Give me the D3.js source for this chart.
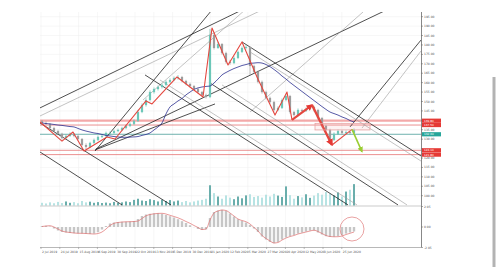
<!DOCTYPE html>
<html>
<head>
<meta charset="utf-8">
<script src="https://cdn.jsdelivr.net/npm/d3@7"></script>
<style>
  body { margin: 0; background: #fff; overflow: hidden; }
  text { font-family: "DejaVu Sans", sans-serif; }
</style>
</head>
<body>
<svg width="500" height="267"></svg>
<script>
const dates = ['2 Jul 2019', '24 Jul 2019', '15 Aug 2019', '6 Sep 2019', '30 Sep 2019', '22 Oct 2019',
  '13 Nov 2019', '5 Dec 2019', '30 Dec 2019', '21 Jan 2020', '12 Feb 2020', '5 Mar 2020',
  '27 Mar 2020', '20 Apr 2020', '12 May 2020', '3 Jun 2020', '25 Jun 2020']

// open, high, low, close
const candles = [
  [139.5, 140.2, 137.9, 138.6], [138.6, 139.4, 137.5, 138.1], [138.1, 138.5, 135.2, 135.9], [135.9, 136.6, 133.8, 134.3],
  [134.3, 135.0, 132.1, 132.8], [132.8, 133.4, 129.8, 130.6], [130.6, 132.4, 130.0, 131.7], [131.7, 133.6, 131.2, 132.8],
  [132.8, 133.3, 131.0, 131.7], [131.7, 132.2, 129.4, 130.1], [130.1, 130.6, 126.2, 126.9], [126.9, 127.8, 124.7, 125.9],
  [125.9, 128.6, 125.3, 128.0], [128.0, 130.3, 127.4, 129.6], [129.6, 131.9, 129.0, 131.2], [131.2, 132.5, 130.6, 131.7],
  [131.7, 134.0, 131.1, 133.3], [133.3, 134.1, 132.4, 133.3], [133.3, 135.0, 132.8, 134.3], [134.3, 135.6, 133.7, 134.9],
  [134.9, 136.6, 134.2, 135.9], [135.9, 137.7, 135.3, 137.0], [137.0, 138.9, 136.4, 138.1], [138.1, 140.5, 137.5, 139.7],
  [139.7, 145.6, 139.1, 144.4], [144.4, 149.0, 143.8, 148.1], [148.1, 151.7, 147.3, 150.8], [150.8, 155.9, 150.1, 155.0],
  [155.0, 157.4, 154.2, 156.6], [156.6, 158.5, 155.8, 157.7], [157.7, 159.6, 156.9, 158.8], [158.8, 161.2, 158.0, 160.4],
  [160.4, 162.3, 159.7, 161.4], [161.4, 163.3, 160.8, 162.5], [162.5, 164.0, 161.6, 163.0], [163.0, 163.6, 160.2, 160.9],
  [160.9, 161.5, 158.6, 159.3], [159.3, 160.0, 157.4, 158.2], [158.2, 158.8, 155.9, 156.6], [156.6, 157.3, 154.3, 155.0],
  [155.0, 155.6, 152.8, 153.5], [153.5, 154.2, 151.6, 152.4], [152.4, 188.5, 151.8, 185.3], [185.3, 186.4, 177.6, 178.4],
  [178.4, 181.6, 177.9, 180.5], [180.5, 181.0, 174.9, 175.7], [175.7, 176.4, 170.2, 171.0], [171.0, 172.1, 169.5, 170.4],
  [170.4, 174.0, 169.8, 173.1], [173.1, 177.0, 172.5, 176.3], [176.3, 179.2, 175.7, 178.4], [178.4, 179.8, 177.6, 178.9],
  [178.9, 179.4, 163.8, 168.8], [168.8, 169.5, 164.9, 165.7], [165.7, 166.4, 159.6, 160.4], [160.4, 161.1, 154.2, 155.0],
  [155.0, 155.7, 151.1, 151.9], [151.9, 152.6, 148.9, 149.7], [149.7, 150.4, 144.7, 145.5], [145.5, 147.4, 144.9, 146.6],
  [146.6, 151.6, 146.0, 150.8], [150.8, 153.7, 150.2, 152.9], [152.9, 153.5, 143.6, 144.4], [144.4, 145.0, 142.0, 142.8],
  [142.8, 146.3, 142.2, 145.5], [145.5, 146.2, 144.2, 145.0], [145.0, 146.8, 144.4, 146.0], [146.0, 147.9, 145.4, 147.1],
  [147.1, 147.7, 144.7, 145.5], [145.5, 146.1, 140.4, 141.2], [141.2, 141.8, 136.2, 137.0], [137.0, 137.6, 134.1, 134.9],
  [134.9, 135.5, 128.3, 129.6], [129.6, 133.6, 129.0, 132.8], [132.8, 135.1, 132.2, 134.3], [134.3, 134.9, 132.5, 133.3],
  [133.3, 134.6, 132.7, 133.8], [133.8, 134.4, 132.5, 133.3], [133.3, 135.7, 132.8, 134.9]
]

const ma = [138.6, 138.3, 138.1, 137.8, 137.5, 137.3, 137.0, 136.7, 136.5, 135.7,
  134.9, 134.3, 133.8, 133.3, 133.0, 132.5, 132.0, 131.7, 131.4, 131.2,
  131.0, 131.0, 131.1, 131.2, 131.4, 132.0, 132.5, 133.3, 134.9, 136.5,
  138.6, 143.4, 147.1, 148.7, 150.3, 151.6, 153.5, 155.0, 156.4, 157.2,
  157.7, 158.0, 158.2, 159.8, 161.9, 164.1, 165.4, 166.5, 167.5, 168.3,
  169.1, 169.6, 170.2, 170.4, 170.6, 170.4, 169.6, 168.5, 167.0, 165.4,
  163.5, 161.9, 160.1, 158.5, 156.9, 155.3, 153.7, 152.1, 150.5, 148.9,
  147.3, 145.8, 144.4, 143.6, 142.8, 141.8, 141.0, 139.9, 139.1]

const volume = [12, 9, 14, 10, 16, 11, 18, 12, 15, 10,
  20, 14, 17, 12, 15, 11, 13, 10, 16, 12,
  14, 18, 15, 25, 30, 22, 20, 28, 24, 18,
  26, 20, 24, 18, 22, 15, 20, 14, 18, 22,
  25, 30, 90, 55, 40, 30, 45, 35, 28, 40,
  32, 45, 50, 38, 42, 35, 48, 40, 52, 44,
  38, 85, 46, 30, 42, 36, 50, 34, 44, 55,
  48, 60, 52, 45, 58, 40, 62, 70, 95]

const hist = [0.10, 0.12, 0.05, -0.15, -0.35, -0.50, -0.55, -0.60, -0.62, -0.64,
  -0.65, -0.68, -0.70, -0.66, -0.52, -0.25, 0.10, 0.35, 0.45, 0.50,
  0.52, 0.53, 0.55, 0.60, 0.80, 1.10, 1.25, 1.32, 1.36, 1.38,
  1.32, 1.20, 1.08, 0.95, 0.78, 0.58, 0.40, 0.18, -0.02, -0.20,
  -0.30, -0.25, 0.90, 1.50, 1.65, 1.72, 1.62, 1.35, 1.05, 0.78,
  0.62, 0.45, 0.20, -0.15, -0.50, -0.95, -1.25, -1.50, -1.62, -1.50,
  -1.25, -1.05, -0.92, -0.80, -0.66, -0.56, -0.46, -0.36, -0.35, -0.55,
  -0.75, -0.92, -1.00, -0.98, -0.92, -0.80, -0.66, -0.55, -0.45]

const signal = [0.05, 0.10, 0.13, 0.00, -0.20, -0.40, -0.50, -0.55, -0.60, -0.63,
  -0.63, -0.65, -0.68, -0.70, -0.65, -0.50, -0.20, 0.15, 0.37, 0.45,
  0.50, 0.52, 0.53, 0.55, 0.60, 0.85, 1.12, 1.25, 1.32, 1.36,
  1.37, 1.30, 1.17, 1.05, 0.92, 0.75, 0.55, 0.37, 0.15, -0.05,
  -0.25, -0.20, 0.70, 1.40, 1.60, 1.70, 1.65, 1.40, 1.10, 0.80,
  0.65, 0.53, 0.30, -0.05, -0.40, -0.85, -1.15, -1.40, -1.60, -1.55,
  -1.30, -1.10, -0.95, -0.85, -0.70, -0.60, -0.50, -0.40, -0.32, -0.45,
  -0.65, -0.85, -0.95, -0.98, -0.97, -0.90, -0.75, -0.63, -0.50]

const priceTicks = d3.range(100, 196, 5)
const oscTicks = [2.05, 0, -2.05]
const levels = [139.8, 137.5, 132.6, 124.1, 121.8]

// zigzag wave marks: [bar index, price]
const zigzag = [[-0.5, 139.1], [5, 129.0], [7.75, 133.8], [10.5, 123.7], [16.25, 131.2], [18.25, 130.1],
  [26, 150.3], [27.5, 148.7], [33.75, 163.0], [40.25, 152.4], [42.5, 189.0], [46.5, 169.4],
  [50, 181.6], [53.75, 163.0], [58.25, 142.8], [61.25, 155.0], [62.5, 140.2], [67.5, 148.1],
  [72.5, 126.9], [77.5, 135.2]]
const projection = [[77.5, 135.2], [80, 123.4]]
const box = [[68.25, 138.4], [82, 134.9]]
const circleAt = [77.5, -0.2]

// trend lines: [i1, p1, i2, p2, kind]
const trendLines = [
  [-0.5, 146.6, 50, 198.6, 'k'], [-0.5, 142.3, 55, 198.6, 'g'],
  [13.5, 124.8, 85.25, 197.7, 'k'], [52, 144.4, 80.25, 197.5, 'g'],
  [13.25, 123.7, 42.5, 198.6, 'k'], [25.25, 150.8, 50.75, 198.6, 'g'],
  [77, 136.5, 94.75, 182.6, 'k'], [80, 135.9, 94.75, 176.8, 'g'],
  [13.25, 124.3, 43.25, 148.7, 'k'],
  [-0.5, 123.2, 20, 95.1, 'k'], [-0.5, 138.6, 32.25, 95.1, 'k'],
  [25.75, 164.1, 76.5, 95.1, 'k'], [29.5, 161.4, 78.75, 95.1, 'g'],
  [42, 159.8, 89, 95.1, 'k'], [45, 158.8, 91.25, 95.1, 'g'],
  [50, 181.6, 94.75, 121.1, 'k'], [52, 176.3, 94.75, 118.4, 'g']
]

const plot = { left: 40, right: 421.5, top: 12, mainBottom: 206, bottom: 247.5 }

const svg = d3.select('svg')

const x = d3.scaleLinear().domain([-0.5, 94.875]).range([plot.left, plot.right])
const y = d3.scaleLinear().domain([100, 195]).range([195.7, 16.7])
const yVol = d3.scaleLinear().domain([0, 100]).range([205.5, 183])
const yOsc = d3.scaleLinear().domain([-2.05, 2.05]).range([plot.bottom, 206.5])
const dateIdx = dates.map((d, k) => -0.25 + k * 4.7)

const defs = svg.append('defs')
defs.append('clipPath').attr('id', 'main')
  .append('rect').attr('x', plot.left).attr('y', plot.top)
  .attr('width', plot.right - plot.left).attr('height', plot.mainBottom - plot.top)
defs.append('marker').attr('id', 'headRed').attr('viewBox', '0 0 10 10').attr('refX', 8).attr('refY', 5)
  .attr('markerWidth', 3).attr('markerHeight', 3).attr('orient', 'auto')
  .append('path').attr('d', 'M0,0L10,5L0,10z').attr('fill', '#e53935')
defs.append('marker').attr('id', 'headGreen').attr('viewBox', '0 0 10 10').attr('refX', 8).attr('refY', 5)
  .attr('markerWidth', 3.5).attr('markerHeight', 3.5).attr('orient', 'auto')
  .append('path').attr('d', 'M0,0L10,5L0,10z').attr('fill', '#9acd32')

// grid
const grid = svg.append('g').attr('stroke', '#efefef').attr('stroke-width', 0.5)
grid.selectAll('.v').data(dateIdx).enter().append('line')
  .attr('x1', d => x(d)).attr('x2', d => x(d)).attr('y1', plot.top).attr('y2', plot.bottom)
grid.selectAll('.h').data(priceTicks).enter().append('line')
  .attr('x1', plot.left).attr('x2', plot.right).attr('y1', d => y(d)).attr('y2', d => y(d))

const main = svg.append('g').attr('clip-path', 'url(#main)')

// volume
main.selectAll('.vol').data(volume).enter().append('rect')
  .attr('x', (d, i) => x(i) - 0.9).attr('width', 1.8)
  .attr('y', d => yVol(d)).attr('height', d => yVol(0) - yVol(d))
  .attr('fill', (d, i) => candles[i][3] >= candles[i][0] ? '#5aa6a3' : '#b0e0e0')

// horizontal levels
const levelStyle = [
  { c: '#f3a9a9', w: 2.2, box: '#e53935' },
  { c: '#e57373', w: 0.8, box: '#e53935' },
  { c: '#4a9e98', w: 0.8, box: '#26a69a' },
  { c: '#e57373', w: 0.8, box: '#e53935' },
  { c: '#e57373', w: 0.8, box: '#e53935' }
]
main.selectAll('.lvl').data(levels).enter().append('line')
  .attr('x1', plot.left).attr('x2', plot.right).attr('y1', d => y(d)).attr('y2', d => y(d))
  .attr('stroke', (d, i) => levelStyle[i].c).attr('stroke-width', (d, i) => levelStyle[i].w)

// trend lines
main.selectAll('.tl').data(trendLines).enter().append('line')
  .attr('x1', d => x(d[0])).attr('y1', d => y(d[1])).attr('x2', d => x(d[2])).attr('y2', d => y(d[3]))
  .attr('stroke', d => d[4] === 'k' ? '#222' : '#9a9a9a')
  .attr('stroke-width', d => d[4] === 'k' ? 0.8 : 0.6)

// candles
const cg = main.append('g')
cg.selectAll('.wick').data(candles).enter().append('line')
  .attr('x1', (d, i) => x(i)).attr('x2', (d, i) => x(i))
  .attr('y1', d => y(d[1])).attr('y2', d => y(d[2]))
  .attr('stroke', d => d[3] >= d[0] ? '#4fb3a3' : '#8f8f8f').attr('stroke-width', 0.6)
cg.selectAll('.body').data(candles).enter().append('rect')
  .attr('x', (d, i) => x(i) - 1.1).attr('width', 2.2)
  .attr('y', d => y(Math.max(d[0], d[3])))
  .attr('height', d => Math.max(0.6, Math.abs(y(d[0]) - y(d[3]))))
  .attr('fill', d => d[3] >= d[0] ? '#6cc7b8' : '#9d9d9d')

// moving average
main.append('path').datum(ma)
  .attr('d', d3.line().x((d, i) => x(i)).y(d => y(d)).curve(d3.curveMonotoneX))
  .attr('fill', 'none').attr('stroke', '#2b2f8f').attr('stroke-width', 0.8)

// zigzag
const zline = d3.line().x(d => x(d[0])).y(d => y(d[1]))
main.append('path').datum(zigzag.slice(0, 17))
  .attr('d', zline).attr('fill', 'none').attr('stroke', '#e4473f').attr('stroke-width', 1.1)
  .attr('stroke-linejoin', 'round')
main.append('path').datum(zigzag.slice(16, 18))
  .attr('d', zline).attr('fill', 'none').attr('stroke', '#e4473f').attr('stroke-width', 2.2)
  .attr('marker-end', 'url(#headRed)')
main.append('path').datum(zigzag.slice(17, 19))
  .attr('d', zline).attr('fill', 'none').attr('stroke', '#e4473f').attr('stroke-width', 2.4)
  .attr('marker-end', 'url(#headRed)')
main.append('path').datum(zigzag.slice(18))
  .attr('d', zline).attr('fill', 'none').attr('stroke', '#e4473f').attr('stroke-width', 1.1)

main.append('rect')
  .attr('x', x(box[0][0])).attr('y', y(box[0][1]))
  .attr('width', x(box[1][0]) - x(box[0][0])).attr('height', y(box[1][1]) - y(box[0][1]))
  .attr('fill', 'rgba(240,150,150,0.12)').attr('stroke', '#e8a3a3').attr('stroke-width', 0.8)

main.append('path').datum(projection)
  .attr('d', zline).attr('fill', 'none').attr('stroke', '#9acd32').attr('stroke-width', 1.6)
  .attr('marker-end', 'url(#headGreen)')

// oscillator
svg.selectAll('.hist').data(hist).enter().append('rect')
  .attr('x', (d, i) => x(i) - 1.2).attr('width', 2.4)
  .attr('y', d => yOsc(Math.max(0, d))).attr('height', d => Math.abs(yOsc(d) - yOsc(0)))
  .attr('fill', '#c6c6c6')
svg.append('path').datum(signal)
  .attr('d', d3.line().x((d, i) => x(i)).y(d => yOsc(d)).curve(d3.curveMonotoneX))
  .attr('fill', 'none').attr('stroke', '#e07070').attr('stroke-width', 0.7)
svg.append('circle').attr('cx', x(circleAt[0])).attr('cy', yOsc(circleAt[1])).attr('r', 12)
  .attr('fill', 'none').attr('stroke', '#e07a7a').attr('stroke-width', 0.7)

// frame
svg.append('line').attr('x1', plot.right).attr('x2', plot.right).attr('y1', plot.top).attr('y2', plot.bottom)
  .attr('stroke', '#555').attr('stroke-width', 0.7)
svg.append('line').attr('x1', plot.left).attr('x2', plot.right).attr('y1', plot.mainBottom).attr('y2', plot.mainBottom)
  .attr('stroke', '#aaa').attr('stroke-width', 0.6)
svg.append('line').attr('x1', plot.left).attr('x2', plot.right).attr('y1', plot.bottom).attr('y2', plot.bottom)
  .attr('stroke', '#888').attr('stroke-width', 0.6)

// price axis (tick labels hidden where a level box sits on top of them)
const ax = svg.append('g').attr('font-size', 3).attr('fill', '#555')
priceTicks.forEach(p => {
  ax.append('line').attr('x1', plot.right).attr('x2', plot.right + 1.5).attr('y1', y(p)).attr('y2', y(p))
    .attr('stroke', '#555').attr('stroke-width', 0.5)
  if (levels.some(v => Math.abs(y(v) - y(p)) < 3.2)) return
  ax.append('text').attr('x', plot.right + 2.5).attr('y', y(p)).attr('dy', '0.35em').text(p.toFixed(2))
})
oscTicks.forEach(v => {
  ax.append('line').attr('x1', plot.right).attr('x2', plot.right + 1.5).attr('y1', yOsc(v)).attr('y2', yOsc(v))
    .attr('stroke', '#555').attr('stroke-width', 0.5)
  ax.append('text').attr('x', plot.right + 2.5).attr('y', yOsc(v)).attr('dy', '0.35em').text(v.toFixed(2))
})
levels.forEach((v, i) => {
  ax.append('rect').attr('x', plot.right + 0.5).attr('y', y(v) - 2.1).attr('width', 19).attr('height', 4.2)
    .attr('fill', levelStyle[i].box)
  ax.append('text').attr('x', plot.right + 2.5).attr('y', y(v)).attr('dy', '0.35em').attr('fill', '#fff')
    .attr('font-size', 2.8).text(v.toFixed(2))
})

// date axis
const dx = svg.append('g').attr('font-size', 3).attr('fill', '#555')
dateIdx.forEach((d, k) => {
  dx.append('line').attr('x1', x(d)).attr('x2', x(d)).attr('y1', plot.bottom).attr('y2', plot.bottom + 1.5)
    .attr('stroke', '#777').attr('stroke-width', 0.5)
  dx.append('text').attr('x', x(d) + 1).attr('y', plot.bottom + 5).text(dates[k])
})

// scrollbar
svg.append('rect').attr('x', 492.5).attr('y', 77).attr('width', 3).attr('height', 190).attr('fill', '#b3b3b3')
</script>
</body>
</html>
